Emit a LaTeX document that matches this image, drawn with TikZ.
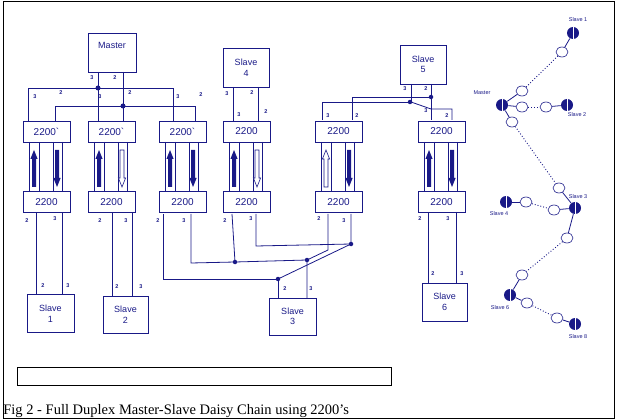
\documentclass[tikz,border=0pt]{standalone}
\usepackage{fontspec}
\usetikzlibrary{shapes.geometric}
\setmainfont{Liberation Serif}
\newfontfamily\diag{Liberation Sans}
\definecolor{nb}{RGB}{25,25,135}
\newcommand\uparr[2]{\path[#2] ({#1-2},187)--({#1-2},159)--({#1-3.6},159)--(#1,150)--({#1+3.6},159)--({#1+2},159)--({#1+2},187)--cycle;}
\newcommand\dnarr[2]{\path[#2] ({#1-2},150)--({#1-2},178)--({#1-3.6},178)--(#1,187)--({#1+3.6},178)--({#1+2},178)--({#1+2},150)--cycle;}
\begin{document}
\begin{tikzpicture}[x=1pt,y=-1pt,font=\diag,line width=0.8pt,
  box/.style={draw=nb,minimum width=47pt,minimum height=21pt,inner sep=0pt,text=nb,font=\diag\fontsize{10}{10}\selectfont},
  sbox/.style={draw=nb,inner sep=0pt,text=nb,font=\diag\fontsize{9}{10.5}\selectfont,align=center},
  pin/.style={text=nb,font=\diag\bfseries\fontsize{5.5}{6}\selectfont,inner sep=0pt},
  w/.style={draw=nb},
  F/.style={fill=nb},
  H/.style={draw=nb,fill=white,line width=0.6pt},
  dot/.style={circle,fill=nb,inner sep=0pt,minimum size=5pt},
  nd/.style={circle,fill=nb,inner sep=0pt,minimum size=12pt,path picture={\draw[white,line width=0.8pt](path picture bounding box.north)--(path picture bounding box.south);}},
  ov/.style={ellipse,draw=nb,fill=white,inner sep=0pt,minimum width=12pt,minimum height=10pt,line width=0.6pt},
  lab/.style={text=nb,font=\diag\fontsize{5.5}{6}\selectfont,inner sep=0pt}]
\useasboundingbox (0,0) rectangle (617,419);
\draw[black] (3,1) rectangle (614,418);
\node[draw=black,line width=0.8pt,minimum width=374pt,minimum height=18pt,inner sep=0pt] (bar) at (204,376) {};
\node[anchor=base west,inner sep=0pt,font=\fontsize{14.5}{15}\selectfont] (cap) at (3,414) {Fig 2 - Full Duplex Master-Slave Daisy Chain using 2200's};
% upper / lower boxes and arrows
\foreach \a/\t [count=\i] in {23/2200`,88/2200`,159/2200`,223/2200,315/2200,418/2200}{
  \node[box] (u\i) at ({\a+23.5},131.5) {\t};
  \node[box] (l\i) at ({\a+23.5},202) {2200};
  \foreach \o in {6,16,30,39} \draw[w] ({\a+\o},142) -- ({\a+\o},191);
}
\uparr{34}{F}\dnarr{57}{F}
\uparr{99}{F}\dnarr{122}{H}
\uparr{170}{F}\dnarr{193}{F}
\uparr{234}{F}\dnarr{257}{H}
\uparr{326}{H}\dnarr{349}{F}
\uparr{429}{F}\dnarr{452}{F}
% top boxes
\node[sbox,minimum width=48pt,minimum height=39pt] (M) at (112,52.5) {};
\node[text=nb,font=\diag\fontsize{9}{10}\selectfont] (Mt) at (112,45) {Master};
\node[sbox,minimum width=46pt,minimum height=39pt] (S4) at (246,67.5) {Slave\\4};
\node[sbox,minimum width=46pt,minimum height=39pt] (S5) at (423,64.5) {Slave\\5};
\node[sbox,minimum width=47pt,minimum height=38pt] (S1) at (50.5,313.5) {Slave\\1};
\node[sbox,minimum width=45pt,minimum height=37pt] (S2) at (125.5,314.5) {Slave\\2};
\node[sbox,minimum width=47pt,minimum height=37pt] (S3) at (292.5,316.5) {Slave\\3};
\node[sbox,minimum width=45pt,minimum height=38pt] (S6) at (444.5,302) {Slave\\6};
% master wiring
\draw[w] (98,72) -- (98,121);
\draw[w] (123,72) -- (123,121);
\draw[w] (28,121) -- (28,88) -- (173,88) -- (173,121);
\draw[w] (55,121) -- (55,106) -- (195,106) -- (195,121);
\node[dot] (d1) at (98,88) {};
\node[dot] (d2) at (123,106) {};
% slave 4
\draw[w] (233,87) -- (233,121);
\draw[w] (258,87) -- (258,121);
% slave 5
\draw[w] (411,84) -- (411,102) -- (322,102) -- (322,120);
\draw[w] (431,84) -- (431,120);
\draw[w] (431,97) -- (352,97) -- (352,120);
\draw[w] (411,102) -- (431,109) -- (452,109) -- (452,120);
\node[dot,minimum size=4.5pt] (d3) at (431,97) {};
\node[dot,minimum size=4.5pt] (d4) at (410,102) {};
% lower wiring
\draw[w] (36,213) -- (36,294); \draw[w] (62,213) -- (62,294);
\draw[w] (112,213) -- (112,296); \draw[w] (132,213) -- (132,296);
\draw[w] (428,212) -- (428,283); \draw[w] (456,212) -- (456,283);
\draw[w] (163,214) -- (163,279) -- (278,279) -- (278,298);
\draw[w] (191,214) -- (191,263) -- (235,262) -- (307,260) -- (307,298);
\draw[w] (232,214) -- (235,262);
\draw[w] (256,214) -- (256,246) -- (351,244);
\draw[w] (328,214) -- (328,250) -- (307,260);
\draw[w] (351,214) -- (351,244) -- (278,279);
\node[dot,minimum size=4.5pt] (d5) at (235,262) {};
\node[dot,minimum size=4.5pt] (d6) at (307,260) {};
\node[dot,minimum size=4.5pt] (d7) at (351,244) {};
\node[dot,minimum size=4.5pt] (d8) at (278,279) {};
% pin labels
\foreach \x/\y/\t in {92/78/3,115/78/2,35/97/3,61/93/2,100/97/3,130/93/2,178/97/3,201/95/2,
  227/94/3,252/93/2,239/115/3,266/112/2,405/89/3,426/89/2,328/116/3,357/116/2,426/111/3,447/116/2,
  27/221/2,55/219/3,100/221/2,126/221/3,158/221/2,184/221/3,225/221/2,251/219/3,319/219/2,344/221/3,420/219/2,448/219/3,
  43/286/2,68/286/3,117/287/2,141/287/3,285/289/2,311/289/3,433/274/2,462/274/3}
  \node[pin] at (\x,\y) {\t};
% right network
\node[nd] (R1) at (573,33) {};
\node[nd] (RM) at (502,105) {};
\node[nd] (R2) at (567,105) {};
\node[nd] (R3) at (575,208) {};
\node[nd] (R4) at (506,202) {};
\node[nd] (R6) at (510,295) {};
\node[nd] (R8) at (575,324) {};
\node[lab] at (578,20) {Slave 1};
\node[lab] at (482,93) {Master};
\node[lab] at (577,115) {Slave 2};
\node[lab] at (578,197) {Slave 3};
\node[lab] at (499,214) {Slave 4};
\node[lab] at (500,308) {Slave 6};
\node[lab] at (578,337) {Slave 8};
\foreach \n/\a/\b/\c/\d in {a/522/91/562/52, b/522/107/546/107, c/512/122/559/188, d/526/202/554/210, e/567/238/522/275, f/527/303/557/318}{
  \node[ov] (o\n1) at (\a,\b) {};
  \node[ov] (o\n2) at (\c,\d) {};
  \draw[nb,dotted,line width=0.9pt] (o\n1) -- (o\n2);
}
\draw[nb] (RM) -- (oa1); \draw[nb] (oa2) -- (R1);
\draw[nb] (RM) -- (ob1); \draw[nb] (ob2) -- (R2);
\draw[nb] (RM) -- (oc1); \draw[nb] (oc2) -- (R3);
\draw[nb] (R4) -- (od1); \draw[nb] (od2) -- (R3);
\draw[nb] (R3) -- (oe1); \draw[nb] (oe2) -- (R6);
\draw[nb] (R6) -- (of1); \draw[nb] (of2) -- (R8);
\end{tikzpicture}
\end{document}
